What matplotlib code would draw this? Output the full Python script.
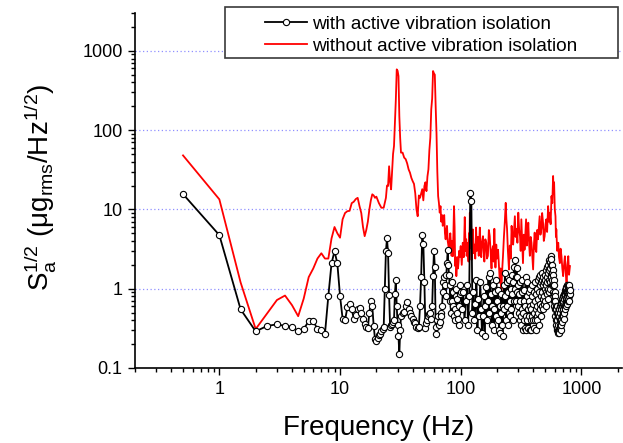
import numpy as np
import matplotlib
matplotlib.use("Agg")
import matplotlib.pyplot as plt
from matplotlib.ticker import LogLocator, NullFormatter, FixedLocator, FixedFormatter
from matplotlib.patches import Rectangle

plt.rcParams['font.family'] = ['Liberation Sans', 'DejaVu Sans']
plt.rcParams['mathtext.fontset'] = 'custom'
plt.rcParams['mathtext.rm'] = 'Liberation Sans'
plt.rcParams['mathtext.it'] = 'Liberation Sans'

# with active isolation: 0.5 Hz steps up to 31.5 Hz
active_lo = [15.6, 4.74, 0.55, 0.29, 0.34, 0.355, 0.34, 0.33, 0.29, 0.31,
             0.39, 0.39, 0.31, 0.30, 0.27, 0.81, 2.08, 2.98, 2.08, 0.81,
             0.42, 0.40, 0.58, 0.65, 0.55, 0.42, 0.47, 0.55, 0.57, 0.50,
             0.42, 0.36, 0.33, 0.32, 0.50, 0.70, 0.60, 0.34, 0.23, 0.22,
             0.24, 0.26, 0.27, 0.29, 0.31, 0.33, 0.98, 2.98, 4.30, 2.80,
             0.83, 0.33, 0.35, 0.36, 0.38, 0.40, 0.85, 1.30, 0.60, 0.35,
             0.25, 0.15, 0.30]
# 1 Hz steps, 32..100 Hz
active_mid = [0.45, 0.50, 0.51, 0.60, 0.67, 0.55, 0.50, 0.45, 0.42, 0.38,
              0.37, 0.33, 0.32, 0.33, 0.60, 1.40, 4.80, 3.70, 1.20, 0.32,
              0.37, 0.40, 0.45, 0.48, 0.50, 0.42, 0.60, 1.44, 3.00, 1.90,
              0.33, 0.27, 0.40, 0.45, 0.35, 0.38, 0.50, 0.45, 0.60, 0.90,
              1.20, 1.40, 1.10, 0.80, 1.50, 2.10, 3.10, 2.00, 1.50, 1.10,
              0.70, 0.50, 0.70, 1.20, 0.90, 0.60, 0.45, 0.40, 0.55, 0.80,
              1.00, 0.75, 0.50, 0.42, 0.35, 0.60, 0.85, 1.10, 0.90]
# 2.5 Hz steps, 102.5..800 Hz
active_hi = [0.55, 0.90, 0.40, 0.70, 1.10, 0.35, 0.80, 16.0, 12.6, 0.50,
             0.90, 0.40, 0.65, 1.30, 0.30, 0.75, 0.45, 1.20, 0.55, 0.28,
             0.45, 0.80, 0.25, 0.60, 1.05, 0.40, 0.70, 1.40, 0.50, 1.60,
             0.85, 0.35, 0.60, 1.10, 0.30, 0.55, 0.90, 0.45, 1.30, 0.70,
             0.40, 0.95, 0.30, 0.60, 0.28, 0.50, 0.85, 0.35, 0.25, 0.60,
             1.10, 0.55, 1.60, 0.80, 0.40, 1.20, 0.60, 0.35, 0.90, 0.50,
             1.30, 0.70, 0.45, 1.00, 0.55, 1.50, 0.85, 0.40, 1.20, 0.70,
             1.90, 1.00, 2.30, 1.40, 0.70, 1.80, 0.90, 1.40, 0.60, 1.10,
             0.50, 0.85, 0.40, 0.70, 1.20, 0.45, 0.35, 0.90, 0.55, 1.30,
             0.50, 0.30, 0.70, 0.40, 0.95, 0.32, 0.60, 1.40, 0.45, 0.30,
             0.80, 0.40, 1.20, 0.55, 0.32, 0.90, 0.45, 0.70, 0.30, 0.60,
             1.00, 0.40, 0.55, 0.30, 0.80, 0.45, 1.10, 0.35, 0.65, 0.40,
             0.90, 0.50, 0.32, 0.70, 0.40, 1.20, 0.55, 0.30, 0.85, 0.45,
             0.60, 1.00, 0.40, 0.75, 1.30, 0.50, 0.90, 0.35, 1.40, 0.65,
             1.10, 0.55, 1.50, 0.80, 1.20, 0.45, 1.60, 0.90, 0.60, 1.30,
             0.75, 1.10, 0.55, 1.40, 0.80, 1.20, 0.65, 1.00, 1.50, 0.70,
             1.30, 0.90, 1.70, 1.10, 0.60, 1.40, 0.85, 1.90, 1.20, 0.75,
             1.60, 1.00, 2.00, 1.30, 0.90, 1.70, 2.30, 1.20, 1.80, 1.00,
             2.20, 1.50, 2.60, 2.00, 1.40, 2.40, 1.60, 1.10, 2.00, 1.30,
             1.70, 0.90, 1.50, 1.10, 0.70, 1.30, 0.85, 1.10, 0.60, 0.90,
             0.55, 0.80, 0.45, 0.70, 0.40, 0.60, 0.35, 0.55, 0.30, 0.50,
             0.40, 0.32, 0.60, 0.30, 0.45, 0.28, 0.50, 0.35, 0.30, 0.55,
             0.30, 0.45, 0.28, 0.40, 0.32, 0.60, 0.35, 0.50, 0.30, 0.65,
             0.40, 0.55, 0.35, 0.70, 0.45, 0.60, 0.38, 0.75, 0.50, 0.65,
             0.45, 0.80, 0.55, 0.70, 0.42, 0.85, 0.60, 0.75, 0.50, 0.90,
             0.60, 0.80, 0.95, 0.55, 0.85, 0.70, 1.00, 0.60, 0.90, 0.75,
             1.05, 0.70, 0.90, 0.65, 1.10, 0.80, 0.95, 0.70, 1.00, 0.85,
             1.10, 0.75, 0.95, 0.80, 1.05, 0.70, 0.90, 1.10, 0.85, 0.95]

f_active = np.concatenate([0.5 * np.arange(1, len(active_lo) + 1),
                           31 + np.arange(1, len(active_mid) + 1),
                           100 + 2.5 * np.arange(1, len(active_hi) + 1)])
s_active = np.array(active_lo + active_mid + active_hi)

# without active isolation
f_passive = [0.5, 1.0, 1.5, 2.0, 3.0, 3.5, 4.0, 4.5, 5.0, 5.5, 6.0, 6.5, 7.0,
             7.5, 8.0, 8.5, 9.0, 9.5, 10.0, 10.5, 11.0, 11.5, 12.0, 12.5, 13.0,
             13.5, 14.0, 14.5, 15.0, 15.5, 16.0, 16.5, 17.0, 17.5, 18.0, 18.5,
             19.0, 19.5, 20.0, 21.0, 22.0, 23.0, 24.0, 24.5, 25.0, 25.5, 26.0,
             26.5, 27.0, 27.5, 28.0, 28.5, 29.0, 29.5, 30.0, 30.5, 31.0, 31.5,
             32, 33, 34, 35, 36, 37, 38, 39, 40, 41, 42, 43, 44, 45, 46, 47,
             48, 49, 50, 51, 52, 53, 54, 55, 56, 57, 58, 59, 60, 61, 62, 63,
             64, 65, 66, 67, 68, 69, 70, 71, 72, 73, 74, 75, 76, 77, 78, 79,
             80, 81, 82, 83, 84, 85, 86, 87, 88, 89, 90, 91, 92, 93, 94, 95,
             96, 97, 98,
             100, 102, 104, 106, 108, 110, 111, 112, 114, 116, 117, 118, 119,
             120, 122, 123, 124, 126, 128, 130, 132, 134, 136, 139, 141, 144,
             146, 148, 150, 153, 155, 157, 160, 163, 165, 168, 171, 174, 177,
             180, 182, 185, 187, 190, 192, 194, 197, 200, 204, 207, 211, 214,
             217, 220, 224, 228, 232, 236, 239, 242, 246, 251, 255, 260, 264,
             268, 272, 276, 281, 285, 290, 295, 300, 305, 310, 314, 318, 323,
             328, 333, 338, 343, 348, 353, 358, 363, 369, 374, 380, 386, 392,
             398, 404, 410, 416, 423, 430, 437, 444, 451, 458, 466, 473, 481,
             488, 496, 504, 512, 520, 530, 538, 547, 556, 565, 574, 583, 588,
             594, 602, 610, 615, 620, 630, 643, 652, 663, 672, 684, 695, 706,
             718, 730, 742, 754, 766, 779, 790, 804]
s_passive = [48, 13.4, 1.2, 0.31, 0.72, 0.82, 0.62, 0.45, 0.75, 1.4, 1.8, 2.4,
             2.8, 2.4, 2.4, 4.3, 6.0, 5.0, 4.4, 7.5, 9.0, 9.5, 9.6, 12, 12.5,
             13.5, 14, 11, 9, 6, 4.6, 5.5, 7, 10, 13, 15.5, 15, 14, 14.5, 12,
             10.5, 10.5, 14, 20, 19.7, 35, 22, 17.9, 30, 50, 63, 120, 243, 584,
             560, 480, 150, 80, 52, 52, 45, 43, 38, 32, 29, 25, 22.7, 21, 16,
             10, 8.2, 15, 14, 16, 18, 13, 19.7, 22, 17, 26, 32, 56, 80, 183,
             250, 556, 520, 500, 200, 92, 30, 14.7, 12, 9.1, 11, 7, 8.5, 6.2,
             7.5, 8.5, 5, 4.2, 5.5, 6.2, 4, 3.5, 3.1, 4.2, 5.0, 3.6, 2.6, 4,
             2.57, 5, 11, 6, 1.93, 2.5, 1.44, 2.0, 2.5, 1.8, 2.2, 3.0, 2.5,
             3.45, 2.0, 3.8, 2.5, 8, 3.0, 4.2, 2.6, 3.8, 2.2, 5, 3.2, 9.1,
             4.0, 6.2, 2.3, 4.5, 5.6, 2.8, 3.6, 2.4, 5.9, 3.0, 4.5, 2.6, 5.9,
             3.5, 2.5, 3.8, 4.6, 3.0, 2.2, 4.2, 3.8, 2.4, 2.6, 5.5, 4.6, 2.8,
             1.8, 3.0, 3.45, 2.2, 5.7, 3.4, 1.85, 3.6, 2.4, 3.1, 2.0, 1.19, 1.8,
             0.85, 1.6, 2.57, 4.5, 7.0, 12.1, 7.5, 5.7, 3.0, 1.75, 3.5, 2.4, 6.2,
             4.0, 3.6, 5.2, 8.2, 4.5, 5.7, 3.8, 9.1, 5.5, 4.6, 3.0, 7.5, 4.0,
             2.1, 4.8, 3.1, 5.0, 7.5, 3.5, 4.6, 6.8, 3.6, 2.6, 4.5, 3.8, 2.5,
             1.75, 3.5, 5.1, 3.2, 2.9, 5.5, 4.2, 6.0, 8.2, 4.8, 5.7, 9.0, 6.8,
             4.0, 4.6, 6.5, 7.5, 5.2, 11, 7.0, 9.1, 6.5, 14.7, 12, 26.4, 16,
             22, 10, 8.2, 4.5, 5.6, 3.0, 3.8, 2.5, 2.1, 3.2, 2.57, 1.8, 1.44,
             2.0, 2.57, 1.6, 1.08, 2.0, 2.57, 1.5, 1.93]

x_ticks = [1, 10, 100, 1000]
x_ticklabels = ['1', '10', '100', '1000']
y_ticks = [0.1, 1, 10, 100, 1000]
y_ticklabels = ['0.1', '1', '10', '100', '1000']
labels = ['with active vibration isolation', 'without active vibration isolation']

fig = plt.figure(figsize=(6.23, 4.43), dpi=100)
ax = fig.add_axes([135 / 623, 75 / 443, 487 / 623, 355 / 443])

ax.plot(f_passive, s_passive, color='#ff0000', lw=1.3, label=labels[1], zorder=2)
ax.plot(f_active, s_active, color='black', lw=1.3, marker='o', ms=4.5,
        mfc='white', mec='black', mew=0.8, label=labels[0], zorder=3)

ax.set_xscale('log')
ax.set_yscale('log')
ax.set_xlim(0.2, 2170)
ax.set_ylim(0.1, 3000)

for g in [1, 10, 100, 1000]:
    ax.axhline(g, color='#9090ff', lw=0.9, ls=(0, (1, 2)), zorder=1)

ax.xaxis.set_major_locator(FixedLocator(x_ticks))
ax.xaxis.set_major_formatter(FixedFormatter(x_ticklabels))
ax.yaxis.set_major_locator(FixedLocator(y_ticks))
ax.yaxis.set_major_formatter(FixedFormatter(y_ticklabels))
ax.xaxis.set_minor_locator(LogLocator(base=10, subs=range(2, 10), numticks=20))
ax.yaxis.set_minor_locator(LogLocator(base=10, subs=range(2, 10), numticks=20))
ax.xaxis.set_minor_formatter(NullFormatter())
ax.yaxis.set_minor_formatter(NullFormatter())
ax.tick_params(which='major', direction='out', length=5, width=1, labelsize=13, pad=4)
ax.tick_params(which='minor', direction='out', length=3, width=1)

for side in ['top', 'right']:
    ax.spines[side].set_visible(False)
for side in ['left', 'bottom']:
    ax.spines[side].set_linewidth(1.2)

ax.set_xlabel('Frequency (Hz)', fontsize=20)
ax.xaxis.set_label_coords(0.5, -0.133)
ax.set_ylabel(r'$\mathregular{S_a^{1/2}\ (μg_{rms}/Hz^{1/2})}$', fontsize=20)
ax.yaxis.set_label_coords(-0.159, 0.51)

# legend box drawn separately, wider than its content as in the original
box = Rectangle((225 / 623, 1 - 57.7 / 443), 393 / 623, 50.4 / 443,
                transform=fig.transFigure, facecolor='white', edgecolor='#3a3a3a',
                lw=1.2, zorder=4, clip_on=False)
ax.add_patch(box)
h, l = ax.get_legend_handles_labels()
leg = ax.legend(h[::-1], l[::-1], loc='upper left', frameon=False,
                bbox_to_anchor=(265 / 623, 1 - 15.5 / 443), bbox_transform=fig.transFigure,
                fontsize=13.7, handlelength=2.2, handletextpad=0.28,
                labelspacing=0.26, borderpad=0, borderaxespad=0, numpoints=1)
leg.set_zorder(5)

fig.savefig('out.png', dpi=100)
